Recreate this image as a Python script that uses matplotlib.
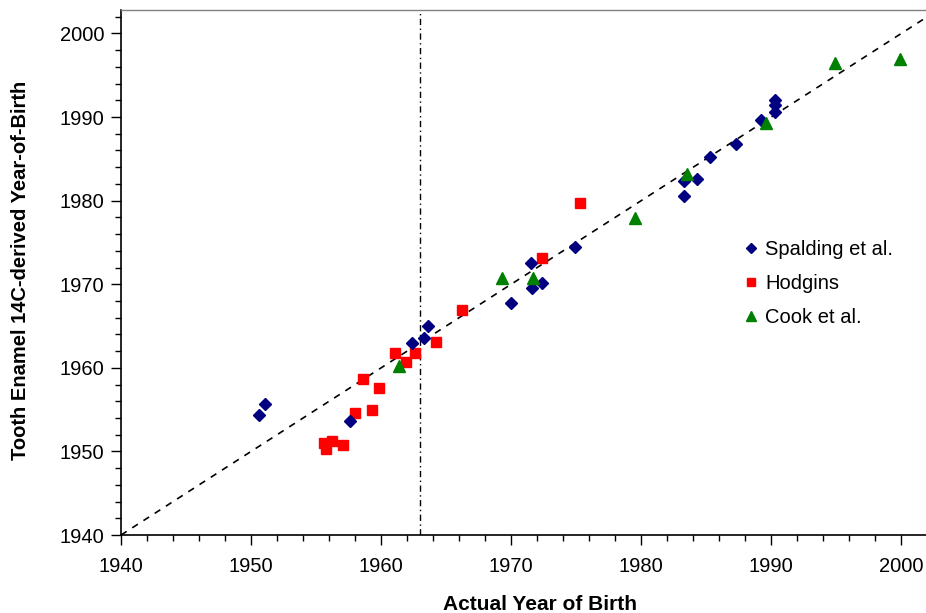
"""
Tooth enamel 14C-derived year of birth vs actual year of birth
"""

import matplotlib
matplotlib.use('Agg')
import matplotlib.pyplot as plt
from matplotlib.ticker import MultipleLocator

# Spalding et al.
spalding_x = [1950.6, 1951.1, 1957.6, 1962.4, 1963.3, 1963.6, 1970.0, 1971.6, 1972.4,
              1971.5, 1974.9, 1983.3, 1983.3, 1984.3, 1985.3, 1987.3, 1989.2,
              1990.3, 1990.3, 1990.3]
spalding_y = [1954.3, 1955.7, 1953.7, 1963.0, 1963.6, 1965.0, 1967.7, 1969.5, 1970.2,
              1972.6, 1974.4, 1980.6, 1982.3, 1982.6, 1985.2, 1986.8, 1989.6,
              1990.6, 1991.4, 1992.0]

# Hodgins
hodgins_x = [1955.6, 1955.8, 1956.2, 1957.1, 1958.0, 1959.3, 1958.6, 1959.8, 1961.1,
             1961.9, 1962.6, 1964.2, 1966.2, 1972.4, 1975.3]
hodgins_y = [1951.0, 1950.3, 1951.2, 1950.8, 1954.6, 1955.0, 1958.7, 1957.6, 1961.8,
             1960.7, 1961.8, 1963.1, 1966.9, 1973.1, 1979.7]

# Cook et al.
cook_x = [1961.4, 1969.3, 1971.7, 1979.5, 1983.5, 1989.6, 1994.9, 1999.9]
cook_y = [1960.2, 1970.8, 1970.7, 1977.9, 1983.2, 1989.3, 1996.5, 1996.9]

treaty_year = 1963
x_min, x_max = 1940, 2001.9
y_min, y_max = 1940, 2002.8

plt.rcParams['font.family'] = ['Liberation Sans', 'DejaVu Sans']

fig = plt.figure(figsize=(9.26, 6.13), dpi=100)
ax = fig.add_axes([0.1307, 0.1272, 0.8693, 0.8564])

# 1:1 line and the test ban year
ax.plot([x_min, x_max], [x_min, x_max], color='black', linestyle=(0, (4, 4)), linewidth=1.2, zorder=1)
ax.axvline(treaty_year, color='black', linestyle=(0, (4.5, 2.5, 1, 2.5)), linewidth=1.0, zorder=1)

ax.plot(spalding_x, spalding_y, 'D', color='#000080', markersize=6.5, linestyle='none', label='Spalding et al.', zorder=3)
ax.plot(hodgins_x, hodgins_y, 's', color='#ff0000', markersize=7.5, linestyle='none', label='Hodgins', zorder=2)
ax.plot(cook_x, cook_y, '^', color='#008000', markersize=8.5, linestyle='none', label='Cook et al.', zorder=3)

ax.set_xlim(x_min, x_max)
ax.set_ylim(y_min, y_max)
ax.xaxis.set_major_locator(MultipleLocator(10))
ax.xaxis.set_minor_locator(MultipleLocator(2))
ax.yaxis.set_major_locator(MultipleLocator(10))
ax.yaxis.set_minor_locator(MultipleLocator(2))
ax.tick_params(which='major', direction='out', length=7, width=1.0, labelsize=14.5)
ax.tick_params(axis='x', which='major', pad=9)
ax.tick_params(axis='y', which='major', pad=5)
ax.tick_params(which='minor', direction='out', length=4, width=1.0)

ax.spines['right'].set_visible(False)
ax.spines['top'].set_color('#808080')
ax.spines['top'].set_linewidth(1.0)
for side in ['left', 'bottom']:
    ax.spines[side].set_linewidth(1.2)

ax.set_xlabel('Actual Year of Birth', fontsize=15, fontweight='bold')
ax.xaxis.set_label_coords(0.521, -0.114)
ax.set_ylabel('Tooth Enamel 14C-derived Year-of-Birth', fontsize=14.5, fontweight='bold')
ax.yaxis.set_label_coords(-0.113, 0.505)

leg = ax.legend(loc='upper left', bbox_to_anchor=(0.753, 0.596), frameon=False, fontsize=14.5,
                handlelength=0.6, handletextpad=0.4, labelspacing=0.75, markerscale=0.8)

fig.savefig('out.png', dpi=100)
